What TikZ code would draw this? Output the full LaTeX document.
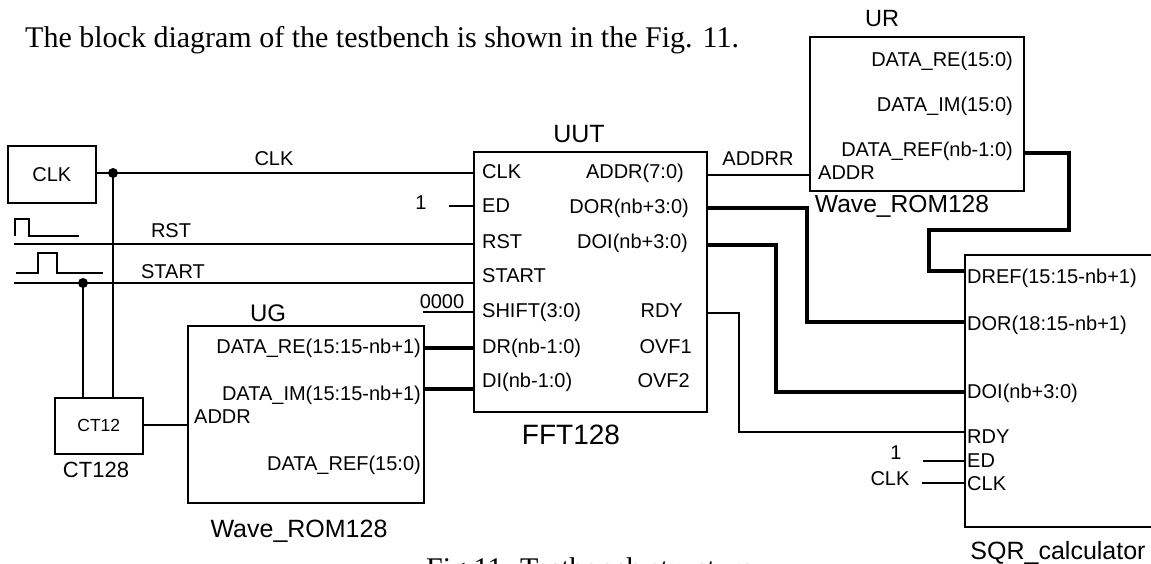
\documentclass[tikz,border=0pt]{standalone}
\usepackage{fontspec}
\setmainfont{Liberation Serif}
\newfontfamily\arialfam{Liberation Sans}
\newcommand{\sfz}[1]{\arialfam\fontsize{#1}{#1}\selectfont}
\newcommand{\rmz}[1]{\rmfamily\fontsize{#1}{#1}\selectfont}
\begin{document}
\begin{tikzpicture}[x=1pt,y=-1pt,
  box/.style={draw, line width=1.6pt, rectangle, inner sep=0pt, anchor=north west},
  wire/.style={line width=1.3pt},
  bus/.style={line width=4.5pt},
  lbl/.style={inner sep=0pt, font=\sfz{20}},
  dot/.style={circle, fill, inner sep=0pt, minimum size=10pt},
]
\useasboundingbox (0,0) rectangle (1151,564);
\clip (0,0) rectangle (1151,564);

% heading and caption
\node[inner sep=0pt, anchor=base west, font=\rmz{30}] (head) at (25,48) {The block diagram of the testbench is shown in the Fig. 11.};
\node[inner sep=0pt, anchor=base west, font=\rmz{30}] (cap) at (426,578) {Fig.11. Testbench structure};

% boxes
\node[box, minimum width=88pt, minimum height=57pt, font=\sfz{20}] (clkbox) at (7,145) {CLK};
\node[box, minimum width=88pt, minimum height=56pt, font=\sfz{17.5}] (ct12) at (54,397) {CT12};
\node[box, minimum width=236pt, minimum height=177pt] (ug) at (187,325) {};
\node[box, minimum width=233pt, minimum height=260pt] (uut) at (473,151) {};
\node[box, minimum width=214pt, minimum height=154pt] (ur) at (809,36) {};
\node[box, minimum width=260pt, minimum height=272pt] (sqr) at (964,254) {};

% block titles
\node[lbl, anchor=base, font=\sfz{22}] (ct128) at (96,477) {CT128};
\node[lbl, anchor=base, font=\sfz{24}] (ugname) at (268,321) {UG};
\node[lbl, anchor=base, font=\sfz{25}] (ugtype) at (299,537) {Wave\_ROM128};
\node[lbl, anchor=base, font=\sfz{25}] (uutname) at (579,143) {UUT};
\node[lbl, anchor=base, font=\sfz{28}] (uuttype) at (571,444) {FFT128};
\node[lbl, anchor=base, font=\sfz{23.5}] (urname) at (882,27) {UR};
\node[lbl, anchor=base, font=\sfz{24.6}] (urtype) at (902,212) {Wave\_ROM128};
\node[lbl, anchor=base, font=\sfz{25}] (sqrtype) at (1058,559) {SQR\_calculator};

% UG pins
\node[lbl, anchor=base east] (ugre) at (421,353) {DATA\_RE(15:15-nb+1)};
\node[lbl, anchor=base east] (ugim) at (421,400) {DATA\_IM(15:15-nb+1)};
\node[lbl, anchor=base west] (ugaddr) at (194,423) {ADDR};
\node[lbl, anchor=base east] (ugref) at (421,470) {DATA\_REF(15:0)};

% UUT pins
\node[lbl, anchor=base west] (pclk) at (482,179) {CLK};
\node[lbl, anchor=base west] (ped) at (482,213) {ED};
\node[lbl, anchor=base west] (prst) at (482,248) {RST};
\node[lbl, anchor=base west] (pstart) at (482,282) {START};
\node[lbl, anchor=base west] (pshift) at (482,317) {SHIFT(3:0)};
\node[lbl, anchor=base west] (pdr) at (482,353) {DR(nb-1:0)};
\node[lbl, anchor=base west] (pdi) at (482,387) {DI(nb-1:0)};
\node[lbl, anchor=base east] (paddr) at (684,179) {ADDR(7:0)};
\node[lbl, anchor=base east] (pdor) at (689,214) {DOR(nb+3:0)};
\node[lbl, anchor=base east] (pdoi) at (688,248) {DOI(nb+3:0)};
\node[lbl, anchor=base east] (prdy) at (683,317) {RDY};
\node[lbl, anchor=base east] (povf1) at (692,353) {OVF1};
\node[lbl, anchor=base east] (povf2) at (690,387) {OVF2};

% UR pins
\node[lbl, anchor=base east] (urre) at (1013,67) {DATA\_RE(15:0)};
\node[lbl, anchor=base east] (urim) at (1013,112) {DATA\_IM(15:0)};
\node[lbl, anchor=base east] (urref) at (1013,157) {DATA\_REF(nb-1:0)};
\node[lbl, anchor=base west] (uraddr) at (818,180) {ADDR};

% SQR pins
\node[lbl, anchor=base west] (sdref) at (967,283) {DREF(15:15-nb+1)};
\node[lbl, anchor=base west] (sdor) at (967,330) {DOR(18:15-nb+1)};
\node[lbl, anchor=base west] (sdoi) at (967,398) {DOI(nb+3:0)};
\node[lbl, anchor=base west] (srdy) at (967,443) {RDY};
\node[lbl, anchor=base west] (sed) at (967,467) {ED};
\node[lbl, anchor=base west] (sclk) at (967,490) {CLK};

% net labels
\node[lbl, anchor=base] (nclk) at (274,166) {CLK};
\node[lbl, anchor=base] (nrst) at (171,237) {RST};
\node[lbl, anchor=base] (nstart) at (173,278) {START};
\node[lbl, anchor=base] (none) at (421,210) {1};
\node[lbl, anchor=base] (nzero) at (442,308) {0000};
\node[lbl, anchor=base] (naddrr) at (758,166) {ADDRR};
\node[lbl, anchor=base] (sone) at (896,459) {1};
\node[lbl, anchor=base] (sclkin) at (890,485) {CLK};

% coordinates of wire ends
\coordinate (clkout) at (95,173);
\coordinate (rstin) at (14,244);
\coordinate (startin) at (14,283);
\coordinate (edin) at (449,206);
\coordinate (shin) at (423,312);
\coordinate (drout) at (423,348);
\coordinate (diout) at (423,389);
\coordinate (ctout) at (142,425);
\coordinate (addrout) at (706,175);
\coordinate (dorout) at (706,208);
\coordinate (doiout) at (706,245);
\coordinate (rdyout) at (706,313);
\coordinate (refout) at (1023,153);
\coordinate (sedin) at (923,461);
\coordinate (sclkw) at (922,483);

% dots
\node[dot] (d1) at (113,173) {};
\node[dot] (d2) at (83,283) {};

% pulse glyphs
\draw[wire] (15,236) -- (15,219) -- (29,219) -- (29,236) -- (79,236);
\draw[wire] (16,273) -- (38,273) -- (38,253) -- (57,253) -- (57,273) -- (103,273);

% thin wires
\draw[wire] (clkout) -- (clkout -| uut.west);
\draw[wire] (d1.center) -- (d1.center |- ct12.north);
\draw[wire] (d2.center) -- (d2.center |- ct12.north);
\draw[wire] (rstin) -- (rstin -| uut.west);
\draw[wire] (startin) -- (startin -| uut.west);
\draw[wire] (edin) -- (edin -| uut.west);
\draw[wire] (shin) -- (shin -| uut.west);
\draw[wire] (ctout) -- (ctout -| ug.west);
\draw[wire] (addrout) -- (addrout -| ur.west);
\draw[wire] (rdyout) -- (739,313) -- (739,432) -- (sqr.west |- 0,432);
\draw[wire] (sedin) -- (sedin -| sqr.west);
\draw[wire] (sclkw) -- (sclkw -| sqr.west);

% buses
\draw[bus] (drout) -- (drout -| uut.west);
\draw[bus] (diout) -- (diout -| uut.west);
\draw[bus] (dorout) -- (807,208) -- (807,322) -- (sqr.west |- 0,322);
\draw[bus] (doiout) -- (776,245) -- (776,392) -- (sqr.west |- 0,392);
\draw[bus] (refout) -- (1069,153) -- (1069,230) -- (929,230) -- (929,271) -- (sqr.west |- 0,271);
\end{tikzpicture}
\end{document}
